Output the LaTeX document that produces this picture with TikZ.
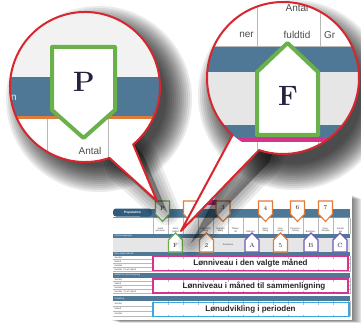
\documentclass[tikz,border=0pt]{standalone}
\usepackage{fontspec}
\usetikzlibrary{calc}
\newfontfamily\sansA{Liberation Sans}
\definecolor{steel}{HTML}{4E7896}
\definecolor{steeldark}{HTML}{2F5B7D}
\definecolor{orng}{HTML}{E07B39}
\definecolor{grn}{HTML}{6BB14B}
\definecolor{purp}{HTML}{6B5BB8}
\definecolor{mag}{HTML}{D4338E}
\definecolor{sky}{HTML}{3AA8DE}
\definecolor{redl}{HTML}{D7262E}
\definecolor{lgray}{HTML}{E6E6E6}
\definecolor{topgray}{HTML}{F2F2F2}
\definecolor{gridc}{HTML}{B8B8B8}
\definecolor{ink}{HTML}{23233F}
\tikzset{
  mk/.style={line width=1.1pt, fill=white, line join=miter},
  mklab/.style={font=\fontsize{6}{6}\selectfont, text=ink, inner sep=0pt},
  tiny/.style={font=\fontsize{2.3}{2.6}\selectfont\sansA, inner sep=0pt, text=black!75},
  tinyw/.style={font=\fontsize{2.3}{2.6}\selectfont\sansA, inner sep=0pt, text=white},
  hdr/.style={tiny, align=center, anchor=south},
  gridl/.style={draw=gridc, line width=0.3pt},
  boxl/.style={line width=1.2pt},
  bigtxt/.style={font=\fontsize{8}{9}\selectfont\sansA\bfseries, text=black!85, inner sep=0pt},
  redline/.style={draw=redl, line width=2pt, line join=round, line cap=round},
  zoomtxt/.style={font=\fontsize{10}{10}\selectfont\sansA, text=black!70, inner sep=0pt},
  zoomletter/.style={font=\fontsize{28}{30}\selectfont\bfseries, text=ink, inner sep=0pt},
  zoommk/.style={draw=grn, line width=4pt, fill=white, line join=round},
}
\newcommand\mkdown[5]{%
  \draw[mk,draw=#4] (#2,#3) ++(-7,0) -- ++(14,0) -- ++(0,13) -- ++(-7,7.5) -- ++(-7,-7.5) -- cycle;
  \node[mklab] (#1) at ($(#2,#3)+(0,7)$) {#5};}
\newcommand\mkup[5]{%
  \draw[mk,draw=#4] (#2,#3) -- ++(7,7) -- ++(0,12) -- ++(-14,0) -- ++(0,-12) -- cycle;
  \node[mklab] (#1) at ($(#2,#3)+(0,12.5)$) {#5};}
\begin{document}
\begin{tikzpicture}[x=1pt,y=-1pt]
\useasboundingbox (0,0) rectangle (361,323);
\fill[white] (0,0) rectangle (361,323);

% ---------- page with shadow ----------
\foreach \k in {1,...,10} \fill[black,opacity=0.06] (110+\k,195+\k*0.4) rectangle (352+\k,320+\k*0.3);
\fill[white] (110,195) rectangle (352,320);

% Population bar
\fill[steel] (140,208.5) rectangle (350,216.5);
\fill[steeldark, rounded corners=3pt] (113,208.5) rectangle (152,216.5);
\node[tinyw, font=\fontsize{3.2}{3.5}\selectfont\sansA\bfseries] (pop) at (132.5,212.5) {Population};
\fill[orng] (113,216.5) rectangle (350,217.7);

% header row
\foreach \x in {153,168,...,348} \draw[gridl] (\x,217.7) -- (\x,233.5);
\draw[gridl] (350,217.7) -- (350,233.5);
\node[hdr] (h1) at (160.5,232.5) {Antal\\personer};
\node[hdr] (h2) at (175.5,232.5) {Antal\\fuldtid};
\node[hdr] (h4) at (205.5,232.5) {Udbetalte\\tillæg};
\node[hdr] (h5) at (220.5,232.5) {Overtids-\\tillæg};
\node[hdr] (h6) at (235.5,232.5) {Tillæg i\\alt};
\node[hdr] (h7) at (250.5,232.5) {Nettoløn};
\node[hdr] (h8) at (265.5,232.5) {Gene-\\tillæg};
\node[hdr] (h9) at (280.5,232.5) {Fere-\\penge};
\node[hdr] (h10) at (295.5,232.5) {Pensions-\\bidrag};
\node[hdr] (h11) at (310.5,232.5) {Bruttoløn};
\node[hdr] (h12) at (325.5,232.5) {Over-\\arbejde};
\node[hdr] (h13) at (340.5,232.5) {Samlet\\løn};

% Personalegruppe
\fill[steel] (113,233.5) rectangle (350,237.5);
\node[tinyw, anchor=west] (pg) at (114.5,235.5) {Personalegruppe};
\fill[lgray] (113,237.5) rectangle (350,251.5);
\node[tiny] (kom) at (228,244.5) {Kommune};

% section 1
\fill[steel] (113,251.5) rectangle (350,255.5);
\node[tinyw, anchor=west] (s1) at (114.5,253.5) {Den valgte måned};
\foreach \y in {259.5,263.5,267.5,271.5} \draw[gridl] (113,\y) -- (350,\y);
\foreach \x in {153,168,...,348} \draw[gridl] (\x,255.5) -- (\x,271.5);
\draw[gridl] (350,255.5) -- (350,271.5);
\node[tiny, anchor=west] (r11) at (114.5,257.5) {Samlet};
\node[tiny, anchor=west] (r12) at (114.5,261.5) {Mænd};
\node[tiny, anchor=west] (r13) at (114.5,265.5) {Kvinder};
\node[tiny, anchor=west] (r14) at (114.5,269.5) {Kvinder i \% af mænd};

% section 2
\fill[steel] (113,273) rectangle (350,277.5);
\node[tinyw, anchor=west] (s2) at (114.5,275.3) {Måned til sammenligning};
\foreach \y in {281.5,285.5,289.5,293.5} \draw[gridl] (113,\y) -- (350,\y);
\foreach \x in {153,168,...,348} \draw[gridl] (\x,277.5) -- (\x,293.5);
\draw[gridl] (350,277.5) -- (350,293.5);
\node[tiny, anchor=west] (r21) at (114.5,279.5) {Samlet};
\node[tiny, anchor=west] (r22) at (114.5,283.5) {Mænd};
\node[tiny, anchor=west] (r23) at (114.5,287.5) {Kvinder};
\node[tiny, anchor=west] (r24) at (114.5,291.5) {Kvinder i \% af mænd};

% section 3
\fill[steel] (113,296) rectangle (350,301);
\node[tinyw, anchor=west] (s3) at (114.5,298.5) {Udvikling};
\foreach \y in {306,311,316} \draw[gridl] (113,\y) -- (350,\y);
\foreach \x in {153,168,...,348} \draw[gridl] (\x,301) -- (\x,316);
\draw[gridl] (350,301) -- (350,316);
\node[tiny, anchor=west] (r31) at (114.5,303.5) {Samlet};
\node[tiny, anchor=west] (r32) at (114.5,308.5) {Mænd};
\node[tiny, anchor=west] (r33) at (114.5,313.5) {Kvinder};

% highlight boxes
\draw[boxl, draw=mag, fill=white] (153,256) rectangle (348,270.5);
\node[bigtxt] (t1) at (250.5,263.3) {Lønniveau i den valgte måned};
\draw[boxl, draw=mag, fill=white] (153,279) rectangle (348,293);
\node[bigtxt] (t2) at (254,286.3) {Lønniveau i måned til sammenligning};
\draw[boxl, draw=sky, fill=white] (153,302.5) rectangle (349,316.5);
\node[bigtxt] (t3) at (250.5,309.8) {Lønudvikling i perioden};
\foreach \x in {168,183,...,333} {
  \draw[gridl] (\x,256.6) -- (\x,258.5); \draw[gridl] (\x,279.6) -- (\x,281.5); \draw[gridl] (\x,303.1) -- (\x,305);
  \draw[gridl] (\x,268.5) -- (\x,269.9); \draw[gridl] (\x,291) -- (\x,292.4); \draw[gridl] (\x,314.5) -- (\x,315.9);}

% magenta bar at top
\fill[mag] (197,200) rectangle (217,205);

% markers
\mkdown{mP}{162.5}{201}{grn}{P}
\mkdown{m1}{190.5}{201}{orng}{}
\mkdown{m3}{223}{201}{orng}{3}
\mkdown{m4}{265.5}{201}{orng}{4}
\mkdown{m6}{297.5}{201}{orng}{6}
\mkdown{m7}{325.5}{201}{orng}{7}
\mkup{mF}{175.5}{233}{grn}{F}
\mkup{m2}{206.5}{233}{orng}{2}
\mkup{mA}{252}{233}{purp}{A}
\mkup{m5}{280.5}{233}{orng}{5}
\mkup{mB}{311}{233}{purp}{B}
\mkup{mC}{340}{233}{purp}{C}

% ---------- magnifier geometry ----------
\coordinate (Lc) at (85,87);
\coordinate (La) at ($(Lc)+(50:75)$);
\coordinate (Lb) at ($(Lc)+(71:75)$);
\coordinate (Lt) at (157,201);
\coordinate (Rc) at (283,78);
\coordinate (Ra) at ($(Rc)+(108.4:76)$);
\coordinate (Rb) at ($(Rc)+(131.5:76)$);
\coordinate (Rt) at (181,231);

% shadows
\foreach \k in {0,...,13} {
  \fill[black,opacity=0.08] ($(Lc)+(14,12)$) circle ({75+18-2*\k});
  \fill[black,opacity=0.08] ($(Rc)+(10,17)$) circle ({76+19-2*\k});}
\foreach \w in {26,20,14,8,2} {
  \filldraw[black,opacity=0.08,line width=\w pt,line join=round]
    ($(Lc)+(10,11)$) -- ($(La)+(10,11)$) -- ($(Lt)+(10,11)$) -- ($(Lb)+(10,11)$) -- cycle;
  \filldraw[black,opacity=0.08,line width=\w pt,line join=round]
    ($(Rc)+(10,12)$) -- ($(Ra)+(10,12)$) -- ($(Rt)+(10,12)$) -- ($(Rb)+(10,12)$) -- cycle;}

% tails
\fill[white] (Lc) -- (La) -- (Lt) -- (Lb) -- cycle;
\fill[white] (Rc) -- (Ra) -- (Rt) -- (Rb) -- cycle;

% ---------- left magnifier ----------
\fill[white] (Lc) circle (75);
\begin{scope}
\clip (Lc) circle (75);
\fill[topgray] (0,0) rectangle (170,77);
\fill[steel] (0,77) rectangle (170,116);
\node[font=\fontsize{10}{10}\selectfont\sansA, text=white!85!steel, inner sep=0pt] (ln) at (14,98) {n};
\fill[orng] (0,116) rectangle (170,119.5);
\draw[draw=gridc, line width=0.9pt] (47,119.5) -- (47,170);
\draw[draw=gridc, line width=0.9pt] (108,119.5) -- (108,170);
\node[zoomtxt] (lantal) at (90,151) {Antal};
\draw[zoommk] (52,47) -- (115,47) -- (115,110) -- (83.5,138) -- (52,110) -- cycle;
\node[zoomletter] (bigP) at (84,82) {P};
\end{scope}
\draw[redline] (Lb) arc[start angle=71, end angle=410, radius=75];
\draw[redline] (La) -- (Lt) -- (Lb);

% ---------- right magnifier ----------
\fill[white] (Rc) circle (76);
\begin{scope}
\clip (Rc) circle (76);
\draw[draw=gridc, line width=0.9pt] (200,46) -- (361,46);
\draw[draw=gridc, line width=0.9pt] (257,0) -- (257,46);
\draw[draw=gridc, line width=0.9pt] (320,0) -- (320,46);
\node[zoomtxt, anchor=east] (rner) at (254,35) {ner};
\node[zoomtxt] (rantal) at (297,8) {Antal};
\node[zoomtxt] (rfuld) at (297,35) {fuldtid};
\node[zoomtxt, anchor=west] (rgr) at (324,35) {Gr};
\fill[steel] (200,47) rectangle (361,72);
\fill[lgray] (200,72) rectangle (361,125);
\fill[steel] (200,125) rectangle (361,138.5);
\fill[mag] (200,138.5) rectangle (361,142);
\draw[draw=gridc, line width=0.9pt] (257,142) -- (257,170);
\draw[draw=gridc, line width=0.9pt] (318,142) -- (318,170);
\draw[zoommk] (287.5,43) -- (318,72) -- (318,135) -- (257,135) -- (257,72) -- cycle;
\node[zoomletter] (bigF) at (288,96) {F};
\end{scope}
\draw[redline] (Rb) arc[start angle=131.5, end angle=468.4, radius=76];
\draw[redline] (Ra) -- (Rt) -- (Rb);
\end{tikzpicture}
\end{document}
